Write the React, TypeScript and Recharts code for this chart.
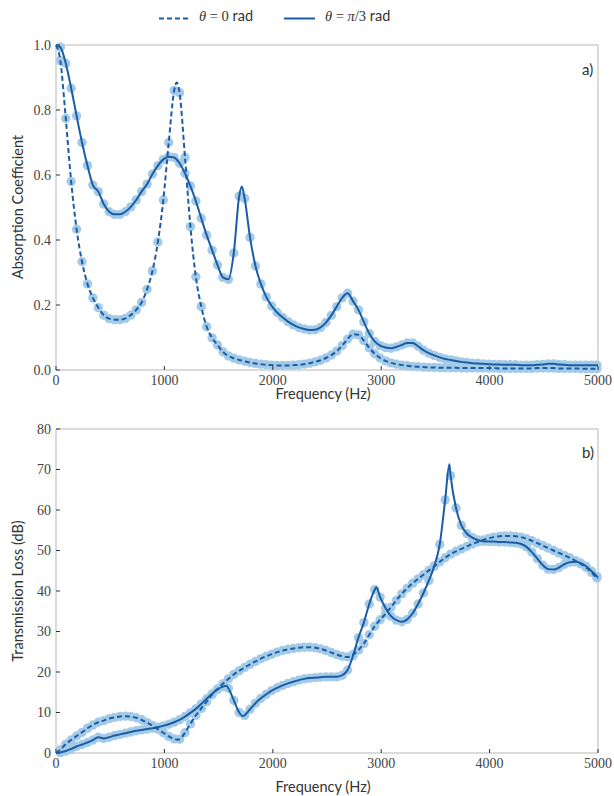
import React from 'react';
import { ComposedChart, Line, XAxis, YAxis } from 'recharts';

// sample frequencies of the markers (Hz)
const FREQ = [
  40, 90, 140, 190, 240, 290, 340, 390, 440, 490,
  540, 590, 640, 690, 740, 790, 840, 890, 940, 990,
  1040, 1090, 1140, 1190, 1240, 1290, 1340, 1390, 1440, 1490,
  1540, 1590, 1640, 1690, 1740, 1790, 1840, 1890, 1940, 1990,
  2040, 2090, 2140, 2190, 2240, 2290, 2340, 2390, 2440, 2490,
  2540, 2590, 2640, 2690, 2740, 2790, 2840, 2890, 2940, 2990,
  3040, 3090, 3140, 3190, 3240, 3290, 3340, 3390, 3440, 3490,
  3540, 3590, 3640, 3690, 3740, 3790, 3840, 3890, 3940, 3990,
  4040, 4090, 4140, 4190, 4240, 4290, 4340, 4390, 4440, 4490,
  4540, 4590, 4640, 4690, 4740, 4790, 4840, 4890, 4940, 4990,
];

// a) absorption coefficient, theta = 0
const absTheta0 = [
  0.952, 0.774, 0.58, 0.433, 0.333, 0.265, 0.222, 0.192, 0.169, 0.158,
  0.155, 0.155, 0.159, 0.169, 0.185, 0.208, 0.248, 0.305, 0.394, 0.523,
  0.7, 0.86, 0.853, 0.654, 0.441, 0.287, 0.195, 0.133, 0.099, 0.077,
  0.056, 0.043, 0.036, 0.031, 0.027, 0.023, 0.02, 0.018, 0.016, 0.015,
  0.014, 0.014, 0.014, 0.015, 0.016, 0.018, 0.021, 0.025, 0.03, 0.037,
  0.046, 0.058, 0.075, 0.095, 0.11, 0.108, 0.09, 0.068, 0.05, 0.037,
  0.028, 0.022, 0.018, 0.015, 0.013, 0.011, 0.01, 0.009, 0.008, 0.008,
  0.007, 0.007, 0.007, 0.007, 0.006, 0.006, 0.006, 0.006, 0.006, 0.006,
  0.006, 0.005, 0.005, 0.005, 0.005, 0.005, 0.005, 0.005, 0.006, 0.006,
  0.006, 0.006, 0.005, 0.005, 0.005, 0.005, 0.004, 0.004, 0.004, 0.004,
];
const absTheta0Extra = [[0, 1.0], [1113, 0.885], [5000, 0.004]];

// a) absorption coefficient, theta = pi/3
const absTheta60 = [
  0.993, 0.944, 0.867, 0.782, 0.7, 0.629, 0.569, 0.549, 0.511, 0.487,
  0.479, 0.479, 0.487, 0.502, 0.523, 0.549, 0.572, 0.603, 0.629, 0.648,
  0.656, 0.654, 0.636, 0.605, 0.566, 0.52, 0.467, 0.415, 0.369, 0.323,
  0.285, 0.279, 0.36, 0.535, 0.528, 0.408, 0.32, 0.265, 0.225, 0.197,
  0.177, 0.162, 0.149, 0.139, 0.131, 0.126, 0.123, 0.124, 0.131, 0.146,
  0.168, 0.195, 0.222, 0.236, 0.212, 0.185, 0.148, 0.112, 0.088, 0.075,
  0.069, 0.067, 0.071, 0.077, 0.083, 0.083, 0.073, 0.061, 0.052, 0.045,
  0.039, 0.034, 0.031, 0.028, 0.025, 0.023, 0.021, 0.02, 0.019, 0.018,
  0.017, 0.017, 0.016, 0.016, 0.016, 0.015, 0.015, 0.015, 0.016, 0.017,
  0.019, 0.019, 0.017, 0.016, 0.015, 0.015, 0.015, 0.015, 0.015, 0.015,
];
const absTheta60Extra = [[0, 1.0], [1714, 0.565], [5000, 0.015]];

// b) transmission loss (dB), theta = 0
const tlTheta0 = [
  0.8, 2.2, 3.2, 4.2, 5.1, 6.1, 6.9, 7.6, 8.0, 8.5,
  8.8, 9.0, 9.1, 9.0, 8.7, 8.2, 7.5, 6.8, 5.9, 5.0,
  4.1, 3.5, 3.4, 5.0, 7.2, 9.3, 11.0, 12.7, 14.4, 15.8,
  17.1, 18.3, 19.4, 20.3, 21.1, 21.9, 22.6, 23.3, 23.9, 24.4,
  24.9, 25.3, 25.6, 25.8, 26.0, 26.1, 26.1, 26.0, 25.7, 25.3,
  24.8, 24.3, 23.9, 23.7, 24.3, 25.4, 27.0, 29.2, 31.3, 32.9,
  34.4, 36.0, 37.7, 39.3, 40.7, 41.9, 43.0, 44.0, 45.1, 46.1,
  47.2, 48.2, 49.1, 49.8, 50.4, 51.0, 51.6, 52.1, 52.6, 53.0,
  53.3, 53.5, 53.6, 53.6, 53.5, 53.3, 52.9, 52.4, 51.8, 51.2,
  50.6, 50.0, 49.4, 48.8, 48.2, 47.5, 46.7, 45.8, 44.6, 43.2,
];
const tlTheta0Extra = [[0, 0], [1120, 3.3], [5000, 43.0]];

// b) transmission loss (dB), theta = pi/3
const tlTheta60 = [
  0.1, 0.5, 1.0, 1.6, 2.1, 2.6, 3.2, 3.9, 3.6, 3.9,
  4.3, 4.6, 4.9, 5.2, 5.5, 5.7, 5.9, 6.1, 6.4, 6.7,
  7.1, 7.6, 8.2, 9.0, 9.9, 10.9, 12.1, 13.4, 14.6, 15.7,
  16.4, 16.0, 13.0, 10.0, 9.3, 10.8, 12.3, 13.5, 14.5, 15.4,
  16.1, 16.7, 17.2, 17.6, 18.0, 18.3, 18.5, 18.6, 18.7, 18.8,
  18.8, 18.8, 19.2, 20.5, 24.0, 28.5, 32.2, 36.8, 40.3, 38.5,
  35.8, 33.8, 32.8, 32.4, 33.0, 34.5, 36.8, 39.5, 42.6, 46.2,
  51.5, 62.5, 68.5, 60.5, 56.2, 54.2, 53.2, 52.6, 52.3, 52.2,
  52.2, 52.1, 52.1, 52.0, 51.9, 51.6, 50.9, 49.6, 48.0, 46.4,
  45.4, 45.3, 45.8, 46.6, 47.1, 47.2, 46.9, 46.1, 44.9, 43.6,
];
const tlTheta60Extra = [[0, 0], [1570, 16.6], [1724, 9.1], [2955, 40.9], [3629, 71.3], [5000, 43.3]];

const xTicks = [0, 1000, 2000, 3000, 4000, 5000];
const absTicks = [0, 0.2, 0.4, 0.6, 0.8, 1.0];
const tlTicks = [0, 10, 20, 30, 40, 50, 60, 70, 80];

const LINE = '#1b5ca6';
const MARK = '#a3cbe7';
const SPINE = '#cfcfcf';
const SERIF = '"Liberation Serif", "DejaVu Serif", serif';
const SANS = 'Lato, "Open Sans", sans-serif';

type Pt = { f: number; v: number };

const markers = (vals: number[]): Pt[] => FREQ.map((f, i) => ({ f, v: vals[i] }));
const curve = (vals: number[], extra: number[][]): Pt[] =>
  [...markers(vals), ...extra.map(([f, v]) => ({ f, v }))].sort((a, b) => a.f - b.f);

const Dot = (p: any) => <circle key={p.index} cx={p.cx} cy={p.cy} r={4.7} fill={MARK} />;

const tickFactory = (side: string, fmt?: (v: number) => string) => (props: any) => {
  const { x, y, payload } = props;
  if (side === 'bottom') {
    return (
      <g>
        <line x1={x} x2={x} y1={y} y2={y - 4} stroke='#333' />
        <text x={x} y={y + 15} textAnchor='middle' fontFamily={SERIF} fontSize={14} fill='#444'>
          {payload.value}
        </text>
      </g>
    );
  }
  if (side === 'left') {
    return (
      <g>
        <line x1={x} x2={x + 4} y1={y} y2={y} stroke='#333' />
        <text x={x - 5} y={y + 4.5} textAnchor='end' fontFamily={SERIF} fontSize={14} fill='#444'>
          {fmt ? fmt(payload.value) : payload.value}
        </text>
      </g>
    );
  }
  if (side === 'top') return <line x1={x} x2={x} y1={y} y2={y + 4} stroke='#333' />;
  return <line x1={x} x2={x - 4} y1={y} y2={y} stroke='#333' />;
};

interface PanelProps {
  layer: 'markers' | 'curves';
  height: number;
  marginTop: number;
  xAxisHeight: number;
  domain: [number, number];
  yTicks: number[];
  fmt?: (v: number) => string;
  dashed: number[];
  dashedExtra: number[][];
  solid: number[];
  solidExtra: number[][];
}

// Recharts paints dots above every curve, so each panel is drawn twice with the
// same geometry: markers + axes underneath, bare curves on top.
const Panel: React.FC<PanelProps> = ({
  layer, height, marginTop, xAxisHeight, domain, yTicks, fmt, dashed, dashedExtra, solid, solidExtra,
}) => {
  const base = layer === 'markers';
  const spine = base ? { stroke: SPINE, strokeWidth: 1.5 } : false;
  return (
    <ComposedChart width={614} height={height} margin={{ top: marginTop, right: 15, bottom: 0, left: 12 }}>
      <XAxis
        dataKey='f' type='number' domain={[0, 5000]} ticks={xTicks} height={xAxisHeight}
        axisLine={spine} tickLine={false} tickSize={0} tickMargin={0}
        tick={base ? tickFactory('bottom') : false} interval={0}
      />
      <XAxis
        xAxisId='top' orientation='top' type='number' domain={[0, 5000]} ticks={xTicks} height={1}
        axisLine={spine} tickLine={false} tickSize={0} tickMargin={0}
        tick={base ? tickFactory('top') : false} interval={0}
      />
      <YAxis
        dataKey='v' type='number' domain={domain} ticks={yTicks} width={44}
        axisLine={spine} tickLine={false} tickSize={0} tickMargin={0}
        tick={base ? tickFactory('left', fmt) : false} interval={0}
      />
      <YAxis
        yAxisId='right' orientation='right' type='number' domain={domain} ticks={yTicks} width={1}
        axisLine={spine} tickLine={false} tickSize={0} tickMargin={0}
        tick={base ? tickFactory('right') : false} interval={0}
      />
      {base ? (
        <Line
          data={markers(dashed)} dataKey='v' stroke='none' dot={Dot} activeDot={false} isAnimationActive={false}
        />
      ) : (
        <Line
          data={curve(dashed, dashedExtra)} dataKey='v' type='monotone' stroke={LINE} strokeWidth={2}
          strokeDasharray='5 3' dot={false} activeDot={false} isAnimationActive={false}
        />
      )}
      {base ? (
        <Line
          data={markers(solid)} dataKey='v' stroke='none' dot={Dot} activeDot={false} isAnimationActive={false}
        />
      ) : (
        <Line
          data={curve(solid, solidExtra)} dataKey='v' type='monotone' stroke={LINE} strokeWidth={2}
          dot={false} activeDot={false} isAnimationActive={false}
        />
      )}
    </ComposedChart>
  );
};

const abs = (style: React.CSSProperties): React.CSSProperties => ({ position: 'absolute', whiteSpace: 'nowrap', ...style });

const yLabel = (text: string, cy: number) => (
  <div
    style={abs({
      left: 18, top: cy, transform: 'translate(-50%, -50%) rotate(-90deg)',
      fontFamily: SANS, fontSize: 14.5, color: '#333', lineHeight: '16px',
    })}
  >
    {text}
  </div>
);

const xLabel = (cy: number) => (
  <div
    style={abs({
      left: 323, top: cy, transform: 'translate(-50%, -50%)',
      fontFamily: SANS, fontSize: 14.5, color: '#333', lineHeight: '16px',
    })}
  >
    Frequency (Hz)
  </div>
);

const Theta = ({ value }: { value: React.ReactNode }) => (
  <span style={{ fontSize: 14.5, color: '#333' }}>
    <span style={{ fontFamily: SERIF, fontStyle: 'italic' }}>θ</span>
    <span style={{ fontFamily: SERIF }}> = </span>
    {value}
    <span style={{ fontFamily: SANS }}> rad</span>
  </span>
);

export default function App() {
  const top = {
    height: 408, marginTop: 44, xAxisHeight: 38, domain: [0, 1] as [number, number], yTicks: absTicks,
    fmt: (v: number) => v.toFixed(1), dashed: absTheta0, dashedExtra: absTheta0Extra,
    solid: absTheta60, solidExtra: absTheta60Extra,
  };
  const bottom = {
    height: 388, marginTop: 20, xAxisHeight: 43, domain: [0, 80] as [number, number], yTicks: tlTicks,
    dashed: tlTheta0, dashedExtra: tlTheta0Extra, solid: tlTheta60, solidExtra: tlTheta60Extra,
  };
  return (
    <div style={{ position: 'absolute', left: 0, top: 0, width: 614, height: 796, background: '#fff' }}>
      <div style={abs({ left: 0, top: 0 })}>
        <Panel layer='markers' {...top} />
      </div>
      <div style={abs({ left: 0, top: 0 })}>
        <Panel layer='curves' {...top} />
      </div>
      <div style={abs({ left: 0, top: 408 })}>
        <Panel layer='markers' {...bottom} />
      </div>
      <div style={abs({ left: 0, top: 408 })}>
        <Panel layer='curves' {...bottom} />
      </div>

      {/* legend */}
      <svg style={abs({ left: 159, top: 16 })} width={31} height={5}>
        <line x1={0} x2={31} y1={2.5} y2={2.5} stroke={LINE} strokeWidth={2} strokeDasharray='5 3' />
      </svg>
      <div style={abs({ left: 199, top: 7 })}>
        <Theta value={<span style={{ fontFamily: SERIF }}>0</span>} />
      </div>
      <svg style={abs({ left: 284, top: 16 })} width={31} height={5}>
        <line x1={0} x2={31} y1={2.5} y2={2.5} stroke={LINE} strokeWidth={2} />
      </svg>
      <div style={abs({ left: 325, top: 7 })}>
        <Theta
          value={
            <span style={{ fontFamily: SERIF }}>
              <i>π</i>/3
            </span>
          }
        />
      </div>

      {yLabel('Absorption Coefficient', 207)}
      {yLabel('Transmission Loss (dB)', 591)}
      {xLabel(394)}
      {xLabel(787)}
      <div style={abs({ left: 582, top: 60, fontFamily: SANS, fontSize: 15, color: '#333' })}>a)</div>
      <div style={abs({ left: 582, top: 443, fontFamily: SANS, fontSize: 15, color: '#333' })}>b)</div>
    </div>
  );
}
